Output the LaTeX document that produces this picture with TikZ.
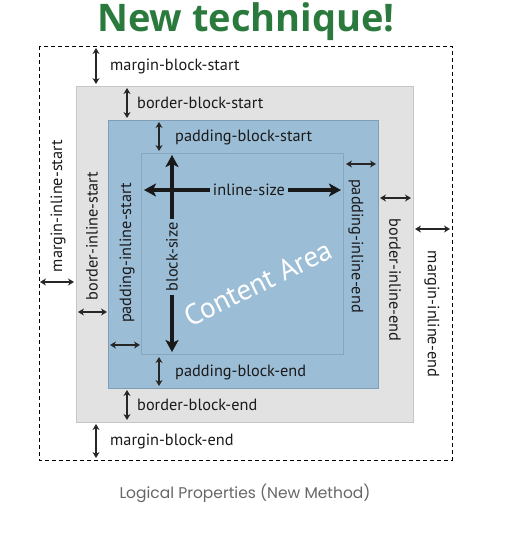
\documentclass[tikz,border=0pt]{standalone}
\usepackage{fontspec}
\setmainfont{PT Sans}
\newfontfamily\titlefont{Open Sans}
\newfontfamily\capfont{Poppins}
\usetikzlibrary{arrows.meta}
\definecolor{titlegreen}{HTML}{2B7A3D}
\definecolor{boxgray}{HTML}{E2E2E2}
\definecolor{edgegray}{HTML}{C6C6C6}
\definecolor{padblue}{HTML}{9BBDD6}
\definecolor{padedge}{HTML}{7E9DB6}
\definecolor{contedge}{HTML}{88A7BF}
\definecolor{labeltext}{HTML}{1A1A1A}
\definecolor{captiongray}{HTML}{666666}
\tikzset{
  dim/.style={{Stealth[length=6pt,width=7pt]}-{Stealth[length=6pt,width=7pt]}, line width=1.8pt, draw=black!85},
  big/.style={-{Stealth[length=12pt,width=13pt,inset=3pt]}, line width=4pt, draw=black!90},
  lab/.style={font=\fontsize{16.3}{17}\selectfont, text=labeltext, inner sep=0pt},
}
\begin{document}
\begin{tikzpicture}[x=1pt,y=-1pt]
\useasboundingbox (0,0) rectangle (528,539);
% title
\node[font=\titlefont\fontsize{38}{40}\bfseries\selectfont, text=titlegreen, inner sep=0pt] (title) at (246,22) {New technique!};
% boxes
\draw[dashed, line width=1pt, dash pattern=on 4pt off 3pt] (39,46) rectangle (452,460);
\node[draw=edgegray, fill=boxgray, line width=0.8pt, minimum width=337pt, minimum height=336pt, inner sep=0pt] (border) at (244.5,254) {};
\node[draw=padedge, fill=padblue, line width=0.8pt, minimum width=270pt, minimum height=268pt, inner sep=0pt] (pad) at (243,254) {};
\node[draw=contedge, line width=0.6pt, minimum width=202pt, minimum height=201pt, inner sep=0pt] (cont) at (242,253.5) {};
% content area text
\node[font=\fontsize{29}{30}\selectfont, text=white, rotate=26, inner sep=0pt] (ca) at (258,283) {Content Area};
% big arrows
\coordinate (hs) at (172,190);
\coordinate (he) at (341,190);
\coordinate (hw) at (144,190);
\coordinate (vt) at (172,155);
\coordinate (vb) at (172,352);
\draw[big] (hs) -- (hw);
\draw[big] (hs) -- (he);
\draw[big] (vt |- 0,255) -- (vt);
\draw[big] (vt |- 0,255) -- (vb);
\node[lab, fill=padblue, inner xsep=3pt, inner ysep=2pt] (isz) at (249,190) {inline-size};
\node[lab, fill=padblue, rotate=90, inner xsep=3pt, inner ysep=2pt] (bsz) at (172,257) {block-size};
% block direction dims
\coordinate (a1) at (96,48); \coordinate (a2) at (96,84);
\draw[dim] (a1) -- (a2);
\node[lab, anchor=west] (mbs) at (110,66) {margin-block-start};
\coordinate (b1) at (127,88); \coordinate (b2) at (127,118);
\draw[dim] (b1) -- (b2);
\node[lab, anchor=west] (bbs) at (137,103) {border-block-start};
\coordinate (c1) at (159,122); \coordinate (c2) at (159,151);
\draw[dim] (c1) -- (c2);
\node[lab, anchor=west] (pbs) at (175,137) {padding-block-start};
\coordinate (d1) at (159,357); \coordinate (d2) at (159,386);
\draw[dim] (d1) -- (d2);
\node[lab, anchor=west] (pbe) at (175,372) {padding-block-end};
\coordinate (e1) at (127,390); \coordinate (e2) at (127,420);
\draw[dim] (e1) -- (e2);
\node[lab, anchor=west] (bbe) at (137,405) {border-block-end};
\coordinate (f1) at (96,424); \coordinate (f2) at (96,458);
\draw[dim] (f1) -- (f2);
\node[lab, anchor=west] (mbe) at (110,441) {margin-block-end};
% inline start dims
\coordinate (g1) at (40,282); \coordinate (g2) at (74,282);
\draw[dim] (g1) -- (g2);
\node[lab, rotate=90] (mis) at (58,206) {margin-inline-start};
\coordinate (h1) at (78,312); \coordinate (h2) at (107,312);
\draw[dim] (h1) -- (h2);
\node[lab, rotate=90] (bis) at (92,236) {border-inline-start};
\coordinate (i1) at (110,345); \coordinate (i2) at (140,345);
\draw[dim] (i1) -- (i2);
\node[lab, rotate=90] (pis) at (127,253) {padding-inline-start};
% inline end dims
\coordinate (j1) at (346,164); \coordinate (j2) at (376,164);
\draw[dim] (j1) -- (j2);
\node[lab, rotate=-90] (pie) at (356,246) {padding-inline-end};
\coordinate (k1) at (380,198); \coordinate (k2) at (411,198);
\draw[dim] (k1) -- (k2);
\node[lab, rotate=-90] (bie) at (395,280) {border-inline-end};
\coordinate (l1) at (415,229); \coordinate (l2) at (450,229);
\draw[dim] (l1) -- (l2);
\node[lab, rotate=-90] (mie) at (432,314) {margin-inline-end};
% caption
\node[font=\capfont\fontsize{15.5}{17}\selectfont, text=captiongray, inner sep=0pt] (cap) at (245,493) {Logical Properties (New Method)};
\end{tikzpicture}
\end{document}
